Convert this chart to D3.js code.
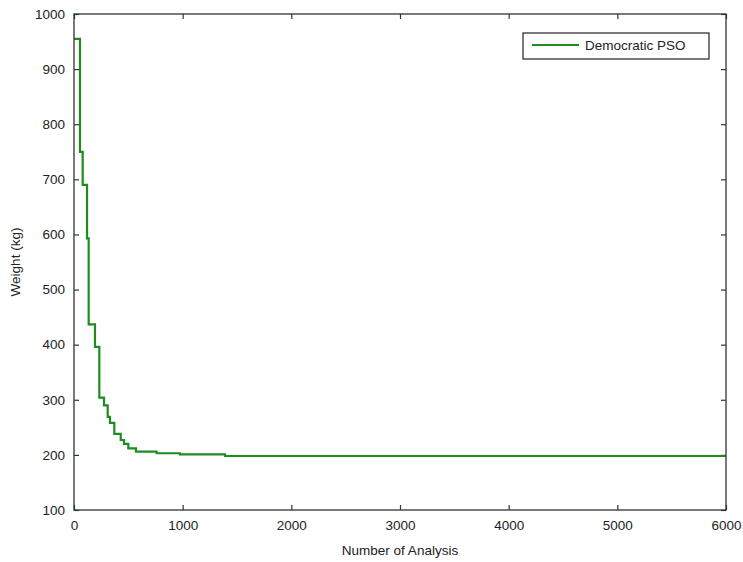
<!DOCTYPE html>
<html>
<head>
<meta charset="utf-8">
<script src="https://cdn.jsdelivr.net/npm/d3@7"></script>
<style>
  body { margin: 0; background: #fff; }
  svg text { font-family: "Liberation Sans", Arial, sans-serif; fill: #222; }
</style>
</head>
<body>
<svg id="main_canvas"></svg>
<script>
const width = 743;
const height = 562;

// Best weight found vs number of analyses (step curve)
const analysisCount = [0, 55, 80, 120, 135, 193, 233, 276, 310, 331, 371, 430, 460, 500, 570, 760, 975, 1390, 6000];
const weightKg = [955, 750, 690, 593, 437, 396, 304, 290, 269, 258, 238, 227, 220, 212, 206, 203, 201, 198, 198];
const xTicks = [0, 1000, 2000, 3000, 4000, 5000, 6000];
const yTicks = [100, 200, 300, 400, 500, 600, 700, 800, 900, 1000];
const seriesName = "Democratic PSO";

const margin = { top: 14, right: 17, bottom: 52, left: 74 };

const svg = d3
  .select("#main_canvas")
  .attr("width", width)
  .attr("height", height);

const x = d3.scaleLinear().domain([0, 6000]).range([margin.left, width - margin.right]);
const y = d3.scaleLinear().domain([100, 1000]).range([height - margin.bottom, margin.top]);

const axisColor = "#333";
const tickLen = 5;
const fmt = d3.format("d");

// bottom + left axes (ticks point inward)
svg
  .append("g")
  .attr("transform", `translate(0,${y(100)})`)
  .call(d3.axisBottom(x).tickValues(xTicks).tickFormat(fmt).tickSizeInner(-tickLen).tickSizeOuter(0).tickPadding(10));

svg
  .append("g")
  .attr("transform", `translate(${x(0)},0)`)
  .call(d3.axisLeft(y).tickValues(yTicks).tickFormat(fmt).tickSizeInner(-tickLen).tickSizeOuter(0).tickPadding(9));

// mirrored ticks top / right
svg
  .append("g")
  .attr("transform", `translate(0,${y(1000)})`)
  .call(d3.axisTop(x).tickValues(xTicks).tickSizeInner(-tickLen).tickSizeOuter(0).tickFormat(""));
svg
  .append("g")
  .attr("transform", `translate(${x(6000)},0)`)
  .call(d3.axisRight(y).tickValues(yTicks).tickSizeInner(-tickLen).tickSizeOuter(0).tickFormat(""));

svg.selectAll(".domain").remove();
svg.selectAll(".tick line").attr("stroke", axisColor).attr("stroke-width", 1.2);
svg.selectAll(".tick text").style("font-size", "13.5px").attr("fill", "#222");

// data line
const line = d3
  .line()
  .x((d, i) => x(analysisCount[i]))
  .y((d) => y(d))
  .curve(d3.curveStepAfter);

svg
  .append("path")
  .datum(weightKg)
  .attr("fill", "none")
  .attr("stroke", "#1f8c1f")
  .attr("stroke-width", 2.2)
  .attr("d", line);

// plot box
svg
  .append("rect")
  .attr("x", x(0))
  .attr("y", y(1000))
  .attr("width", x(6000) - x(0))
  .attr("height", y(100) - y(1000))
  .attr("fill", "none")
  .attr("stroke", axisColor)
  .attr("stroke-width", 1.3);

// axis labels
svg
  .append("text")
  .attr("x", (x(0) + x(6000)) / 2)
  .attr("y", 555)
  .attr("text-anchor", "middle")
  .style("font-size", "13.5px")
  .text("Number of Analysis");

svg
  .append("text")
  .attr("transform", `translate(20,${(y(100) + y(1000)) / 2}) rotate(-90)`)
  .attr("text-anchor", "middle")
  .style("font-size", "13.5px")
  .text("Weight (kg)");

// legend
const legend = svg.append("g").attr("transform", "translate(523,33)");
legend
  .append("rect")
  .attr("width", 186)
  .attr("height", 26)
  .attr("fill", "#fff")
  .attr("stroke", axisColor)
  .attr("stroke-width", 1.3);
legend
  .append("line")
  .attr("x1", 9)
  .attr("x2", 56)
  .attr("y1", 12)
  .attr("y2", 12)
  .attr("stroke", "#1f8c1f")
  .attr("stroke-width", 2.2);
legend
  .append("text")
  .attr("x", 62)
  .attr("y", 17)
  .style("font-size", "13.5px")
  .text(seriesName);
</script>
</body>
</html>
